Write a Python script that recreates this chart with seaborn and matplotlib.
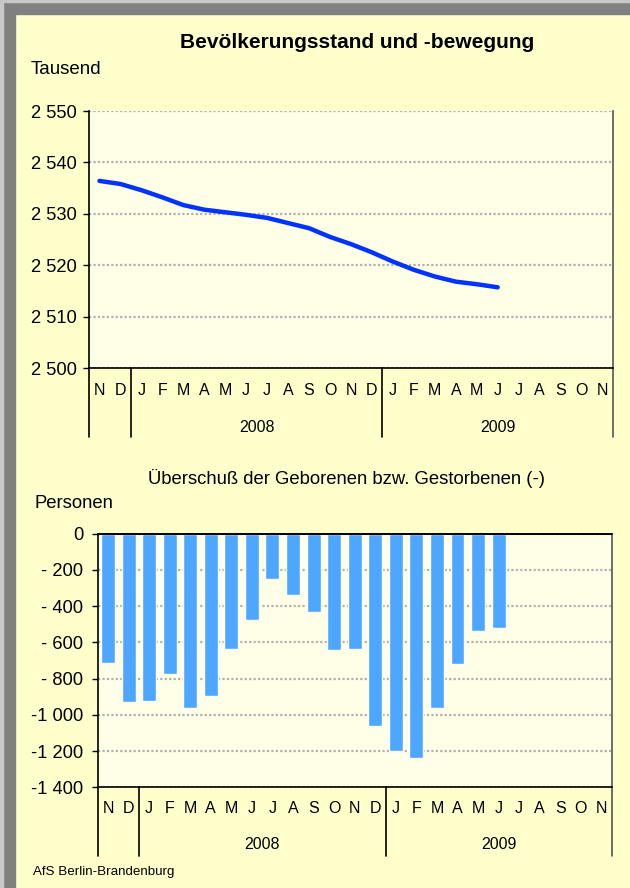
import numpy as np
import pandas as pd
import seaborn as sns
import matplotlib.pyplot as plt
from matplotlib.patches import Rectangle
import matplotlib.transforms as mtransforms

# Monatsachse: Nov 2007 bis Nov 2009
months = ["N", "D", "J", "F", "M", "A", "M", "J", "J", "A", "S", "O", "N", "D",
          "J", "F", "M", "A", "M", "J", "J", "A", "S", "O", "N"]
years = ["2008", "2009"]

# Bevölkerungsstand in Tausend (Nov 2007 - Jun 2009)
stand = [2536.4, 2535.8, 2534.6, 2533.2, 2531.7, 2530.8, 2530.3, 2529.8, 2529.2, 2528.2,
         2527.2, 2525.5, 2524.1, 2522.5, 2520.7, 2519.1, 2517.8, 2516.8, 2516.3, 2515.7]

# Überschuss der Geborenen bzw. Gestorbenen (Personen)
saldo = [-712, -928, -922, -773, -961, -895, -635, -475, -248, -337,
         -431, -640, -635, -1060, -1198, -1237, -961, -718, -536, -519]

bg = "#FFFFCC"
plot_bg = "#FFFFE8"

sns.set_style("white")
plt.rcParams['font.family'] = ['Liberation Sans', 'DejaVu Sans']
plt.rcParams['text.color'] = 'black'
plt.rcParams['xtick.color'] = 'black'
plt.rcParams['ytick.color'] = 'black'
plt.rcParams['xtick.labelcolor'] = 'black'
plt.rcParams['ytick.labelcolor'] = 'black'

fig = plt.figure(figsize=(6.3, 8.88), dpi=100)
fig.patch.set_facecolor(bg)

# grauer Rahmen oben und links
fig.add_artist(Rectangle((0, 1 - 14 / 888), 1, 14 / 888, transform=fig.transFigure, color="#808080", zorder=0))
fig.add_artist(Rectangle((0, 0), 15 / 630, 1, transform=fig.transFigure, color="#808080", zorder=0))
fig.add_artist(Rectangle((0, 0), 3 / 630, 1, transform=fig.transFigure, color="#C8C8C8", zorder=0))
fig.add_artist(Rectangle((0, 1 - 2 / 888), 1, 2 / 888, transform=fig.transFigure, color="#C8C8C8", zorder=0))

ax1 = fig.add_axes([89 / 630, 1 - 368 / 888, 524 / 630, 257 / 888])
ax2 = fig.add_axes([97.7 / 630, 1 - 787.3 / 888, 514 / 630, 253.6 / 888])

n = len(months)
df1 = pd.DataFrame({"pos": np.arange(len(stand)), "wert": stand})
sns.lineplot(data=df1, x="pos", y="wert", ax=ax1, color="#0033FF", linewidth=3.2,
             solid_capstyle="round", solid_joinstyle="round", zorder=3)

keys = [str(i) for i in range(n)]
df2 = pd.DataFrame({"pos": keys[:len(saldo)], "wert": saldo})
sns.barplot(data=df2, x="pos", y="wert", order=keys, ax=ax2, color="#4DA6FF",
            saturation=1, width=0.68, zorder=3)


def style_axes(ax, ylim, yticks, ylabels, sep_below, month_pad, year_off, ypad):
    ax.set_facecolor(plot_bg)
    ax.set_xlim(-0.5, n - 0.5)
    ax.set_ylim(*ylim)
    ax.set_yticks(yticks)
    ax.set_yticklabels(ylabels, fontsize=13.2)
    ax.set_xticks(range(n))
    ax.set_xticklabels(months, fontsize=11.5)
    ax.tick_params(axis="x", length=0, pad=month_pad)
    ax.tick_params(axis="y", length=4.5, width=1, color="black", direction="out", pad=ypad, left=True)
    ax.set_xlabel("")
    ax.set_ylabel("")
    ax.grid(axis="y", color="#B0B0B0", linestyle=(0, (1, 1)), linewidth=1.6, zorder=1)
    ax.grid(axis="x", visible=False)
    ax.set_axisbelow(True)
    for s in ["left", "bottom"]:
        ax.spines[s].set_color("black")
        ax.spines[s].set_linewidth(1.2)
    ax.spines["right"].set_color("#555555")
    ax.spines["right"].set_linewidth(1.2)
    ax.spines["top"].set_visible(False)
    trans = mtransforms.blended_transform_factory(ax.transData, ax.transAxes)
    for xs in [-0.5, 1.5, 13.5, n - 0.5]:
        col = "#555555" if xs == n - 0.5 else "black"
        ax.plot([xs, xs], [0, -sep_below], transform=trans, color=col, lw=1.2, clip_on=False)
    ax.text(7.5, -year_off, years[0], transform=trans, ha="center", va="center", fontsize=11.5)
    ax.text(19, -year_off, years[1], transform=trans, ha="center", va="center", fontsize=11.5)


def fmt(v):
    s = f"{abs(v):,}".replace(",", " ")
    if v < 0:
        s = ("- " + s) if abs(v) < 1000 else ("-" + s)
    return s


t1 = list(range(2500, 2551, 10))
style_axes(ax1, (2500, 2550), t1, [fmt(v) for v in t1], 69 / 257, 11, 59 / 257, 4.5)
t2 = list(range(-1400, 1, 200))
style_axes(ax2, (-1400, 0), t2, [fmt(v) for v in t2], 69 / 253.6, 10, 57 / 253.6, 6)
ax2.axhline(0, color="black", lw=1.4, zorder=4, clip_on=False)

fig.text(357 / 630, 1 - 43 / 888, "Bevölkerungsstand und -bewegung", ha="center", va="center",
         fontsize=15, fontweight="bold")
fig.text(31 / 630, 1 - 70 / 888, "Tausend", ha="left", va="center", fontsize=13.5)
fig.text(346 / 630, 1 - 478 / 888, "Überschuß der Geborenen bzw. Gestorbenen (-)", ha="center",
         va="center", fontsize=13.3)
fig.text(34 / 630, 1 - 503 / 888, "Personen", ha="left", va="center", fontsize=13.3)
fig.text(33 / 630, 1 - 872 / 888, "AfS Berlin-Brandenburg", ha="left", va="center", fontsize=9.6)

fig.savefig("out.png", dpi=100, facecolor=bg)
